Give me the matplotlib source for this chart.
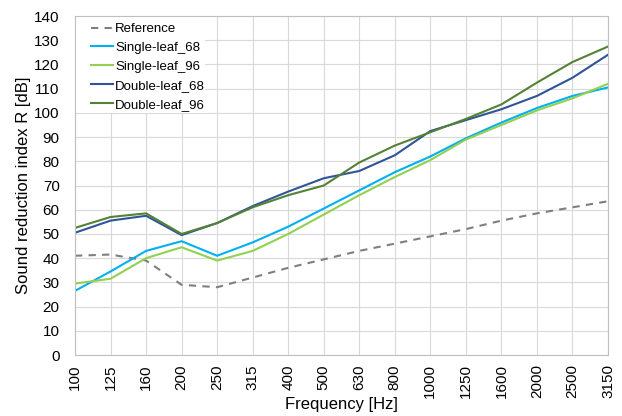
'''
sound reduction index plot
'''
import numpy as np
import matplotlib.pyplot as plt
from matplotlib.patches import Rectangle

# data ----------------------------------------------------
freqs = ['100', '125', '160', '200', '250', '315', '400', '500', '630',
         '800', '1000', '1250', '1600', '2000', '2500', '3150']

reference = [41, 41.5, 39, 29, 28, 32, 36, 39.5, 43, 46, 49, 52, 55.5, 58.5, 61, 63.5]
single_68 = [26.5, 34.5, 43, 47, 41, 46.5, 53, 60.5, 68, 75.5, 82, 89.5, 96, 102, 107, 110.5]
single_96 = [29.5, 31.5, 40, 44.5, 39, 43, 50, 58, 66, 73.5, 80.5, 89, 95, 101, 106, 112]
double_68 = [50.5, 55.5, 57.5, 49.5, 54.5, 61.5, 67.5, 73, 76, 82.5, 92.5, 97, 101.5, 107, 114.5, 124]
double_96 = [52.5, 57, 58.5, 50, 54.5, 61, 66, 70, 79.5, 86.5, 92, 97.5, 103.5, 112.5, 121, 127.4]

# plot ----------------------------------------------------
plt.rcParams['font.family'] = ['Liberation Sans', 'DejaVu Sans']

fig, ax = plt.subplots(figsize=(6.22, 4.16), dpi=100)
fig.subplots_adjust(left=0.1206, right=0.9775, bottom=0.1466, top=0.9615)

x = np.arange(len(freqs))

ax.plot(x, reference, color='#7f7f7f', lw=1.5, ls=(0, (3.5, 3)), label='Reference')
ax.plot(x, single_68, color='#00b0f0', lw=1.5, label='Single-leaf_68')
ax.plot(x, single_96, color='#92d050', lw=1.5, label='Single-leaf_96')
ax.plot(x, double_68, color='#2f5597', lw=1.5, label='Double-leaf_68')
ax.plot(x, double_96, color='#548235', lw=1.5, label='Double-leaf_96')

# set parameters:
ax.set_xlim(0, len(freqs) - 1)
ax.set_ylim(0, 140)
ax.set_yticks(np.arange(0, 141, 10))
ax.set_xticks(x)
ax.set_xticklabels(freqs, rotation=90)
ax.grid(True, color='#d9d9d9', lw=0.8)
ax.set_axisbelow(True)
for side in ['top', 'right', 'left', 'bottom']:
    ax.spines[side].set_color('#bfbfbf')
ax.tick_params(axis='y', length=0, labelsize=11, pad=11)
ax.tick_params(axis='x', length=0, labelsize=11, pad=6.5)
ax.set_xlabel('Frequency [Hz]', fontsize=12, labelpad=-1)
ax.set_ylabel('Sound reduction index R [dB]', fontsize=12, labelpad=2)

# white box behind legend:
ax.add_patch(Rectangle((0, 0.714), 0.244, 0.286, transform=ax.transAxes,
                       facecolor='white', edgecolor='none', zorder=1.5))

leg = ax.legend(loc='upper left', bbox_to_anchor=(0.0225, 0.991), fontsize=9.5,
                frameon=False, borderaxespad=0, borderpad=0.3,
                handlelength=1.7, handletextpad=0.15, labelspacing=0.5)

# save:
plt.savefig('out.png', dpi=100)
